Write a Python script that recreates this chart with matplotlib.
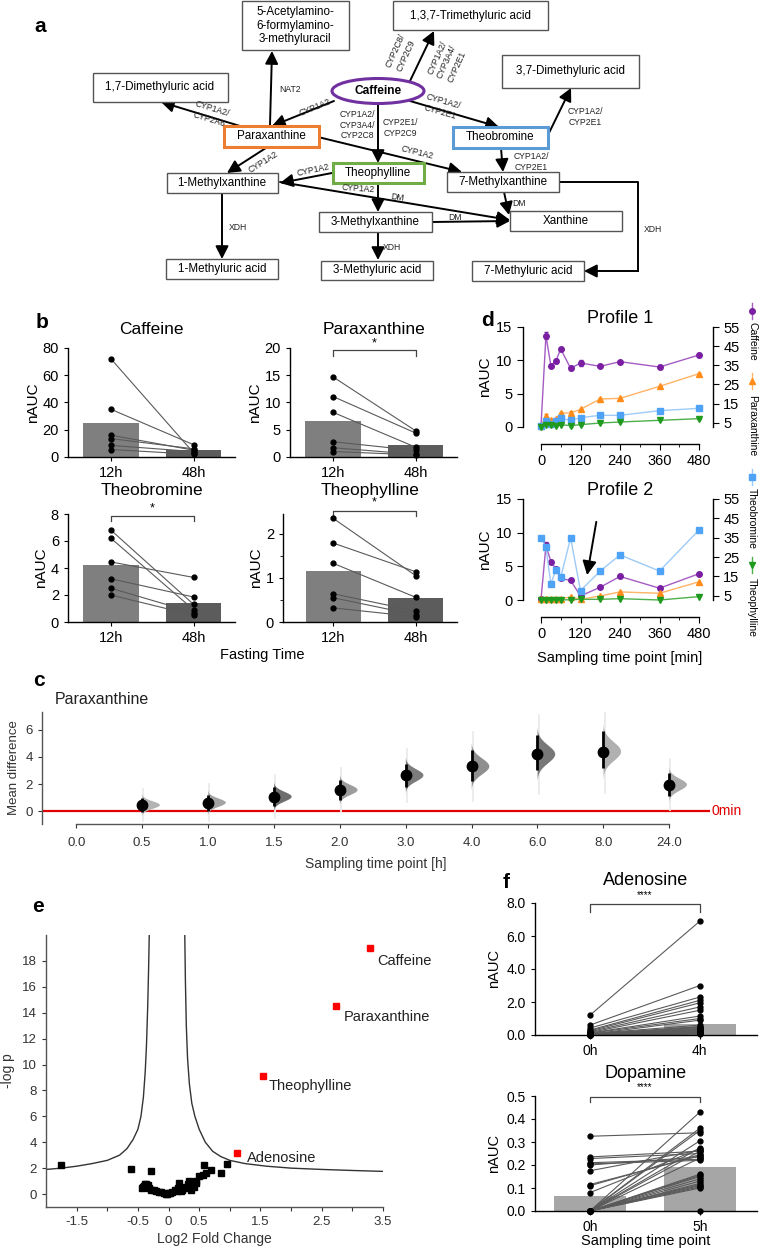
import numpy as np
import matplotlib
matplotlib.use('Agg')
import matplotlib.pyplot as plt
from matplotlib.patches import Rectangle, Ellipse, Polygon

plt.rcParams['font.family'] = ['Liberation Sans', 'DejaVu Sans']
plt.rcParams['axes.linewidth'] = 1.0

W, H = 761, 1248

# ---------------- panel a: pathway ----------------
box_labels = ['5-Acetylamino-\n6-formylamino-\n3-methyluracil', '1,3,7-Trimethyluric acid',
              '1,7-Dimethyluric acid', '3,7-Dimethyluric acid', 'Paraxanthine', 'Theobromine',
              'Theophylline', '1-Methylxanthine', '7-Methylxanthine', '3-Methylxanthine',
              'Xanthine', '1-Methyluric acid', '3-Methyluric acid', '7-Methyluric acid']
box_centers = [(295, 25.5), (470, 15.5), (160, 87), (570, 71), (271, 136), (500, 137),
               (378, 173), (222, 183), (503, 182), (375, 222), (566, 221), (222, 269),
               (377, 270), (528, 271)]
box_sizes = [(107, 49), (155, 29), (135, 29), (137, 33), (95, 21), (95, 21), (91, 20),
             (111, 20), (112, 20), (113, 20), (112, 20), (112, 20), (112, 19), (112, 20)]
box_edges = ['#555555'] * 4 + ['#ed7d31', '#5b9bd5', '#70ad47'] + ['#555555'] * 7

arrows = [((334, 101), (272, 126)), ((270, 125), (272, 51)), ((240, 126), (161, 102)),
          ((410, 81), (434, 31)), ((410, 101), (499, 127)), ((547, 137), (571, 88)),
          ((378, 104), (378, 163)), ((269, 146), (227, 173)), ((318, 137), (462, 172)),
          ((332, 173), (280, 183)), ((378, 183), (378, 212)), ((280, 182), (510, 220)),
          ((432, 222), (510, 221)), ((504, 192), (509, 215)), ((501, 148), (503, 172)),
          ((222, 193), (222, 259)), ((378, 232), (378, 260))]

enzymes = [('NAT2', 290, 89, 0), ('CYP1A2', 315, 107, 22), ('CYP1A2/\nCYP2A6', 211, 114, -17),
           ('CYP2C8/\nCYP2C9', 401, 53, 66), ('CYP1A2/\nCYP3A4/\nCYP2E1', 447, 62, 66),
           ('CYP1A2/\nCYP2E1', 442, 107, -16), ('CYP1A2/\nCYP2E1', 585, 117, 0),
           ('CYP1A2/\nCYP3A4/\nCYP2C8', 357, 125, 0), ('CYP2E1/\nCYP2C9', 400, 128, 0),
           ('CYP1A2', 263, 162, 32), ('CYP1A2', 313, 170, 12), ('CYP1A2', 358, 189, -4),
           ('CYP1A2', 417, 153, -14), ('DM', 397, 197, -8), ('DM', 455, 218, 0),
           ('DM', 519, 203, 0), ('CYP1A2/\nCYP2E1', 531, 162, 0), ('XDH', 653, 229, 0),
           ('XDH', 238, 227, 0), ('XDH', 392, 247, 0)]

# ---------------- panel b: fasting ----------------
b_groups = ['12h', '48h']
caf_12 = [72, 35, 16, 13.5, 8.5, 5.5]
caf_48 = [3, 9, 5, 6, 4, 2]
par_12 = [14.7, 11.1, 8.2, 2.8, 1.7, 1.0]
par_48 = [4.8, 4.4, 1.8, 1.2, 0.5, 0.4]
tbr_12 = [6.8, 6.2, 4.45, 3.2, 2.5, 2.0]
tbr_48 = [1.3, 0.9, 3.3, 1.85, 0.7, 0.5]
tph_12 = [2.35, 1.79, 1.33, 0.64, 0.55, 0.32]
tph_48 = [1.05, 1.14, 0.56, 0.25, 0.16, 0.12]

# ---------------- panel c: estimation plot ----------------
c_ticklabels = ['0.0', '0.5', '1.0', '1.5', '2.0', '3.0', '4.0', '6.0', '8.0', '24.0']
c_mean = [0.44, 0.62, 1.06, 1.56, 2.64, 3.3, 4.2, 4.4, 1.95]
c_lo = [-0.1, 0.0, 0.35, 0.85, 1.75, 2.2, 3.0, 3.2, 1.1]
c_hi = [0.98, 1.2, 1.75, 2.3, 3.5, 4.5, 5.6, 5.9, 2.8]
c_shade = ['#b3b3b3', '#a3a3a3', '#6e6e6e', '#9c9c9c', '#7c7c7c', '#8f8f8f', '#787878',
           '#b0b0b0', '#ababab']

# ---------------- panel d: profiles ----------------
t_min = [0, 15, 30, 45, 60, 90, 120, 180, 240, 360, 480]
p1_caf = [0.2, 13.7, 9.2, 9.9, 11.7, 8.8, 9.6, 9.1, 9.8, 9.0, 10.8]
p1_caf_err = [0, 0.5, 0.2, 0.3, 0.1, 0.3, 0.4, 0.1, 0.1, 0.1, 0.3]
p1_par = [0.2, 1.7, 1.0, 1.25, 2.1, 2.1, 2.65, 4.2, 4.3, 6.1, 8.0]
p1_par_err = [0, 0.2, 0.1, 0.1, 0.15, 0.35, 0.1, 0.1, 0.1, 0.1, 0.1]
p1_tbr = [0.1, 0.9, 0.5, 0.9, 1.3, 1.0, 1.4, 1.75, 1.75, 2.45, 2.8]
p1_tph = [0.0, 0.25, 0.25, 0.2, 0.35, 0.2, 0.35, 0.6, 0.75, 1.0, 1.25]
p1_tph_err = [0, 0, 0, 0, 0, 0.2, 0, 0, 0, 0, 0]
p2_caf = [0.1, 8.1, 5.7, 4.6, 3.2, 2.9, 0.6, 1.9, 3.5, 1.75, 3.9]
p2_caf_err = [0, 0.5, 0.1, 0.1, 0.1, 0.1, 0.1, 0.1, 0.1, 0.1, 0.1]
p2_par = [0.2, 0.2, 0.2, 0.2, 0.2, 0.45, 0.1, 0.6, 1.2, 1.0, 2.7]
p2_tbr = [9.2, 7.8, 2.4, 4.4, 3.4, 9.2, 1.4, 4.3, 6.7, 4.3, 10.4]
p2_tph = [0.05, 0.0, 0.0, 0.0, 0.0, 0.05, 0.1, 0.1, 0.2, 0.0, 0.5]
d_names = ['Caffeine', 'Paraxanthine', 'Theobromine', 'Theophylline']
d_markers = ['o', '^', 's', 'v']
d_mcol = ['#7b1fa2', '#ff8c1a', '#4fa3f7', '#1f9a1f']
d_lcol = ['#a45cc4', '#ffb366', '#9dcbf7', '#4cb04c']

# ---------------- panel e: volcano ----------------
e_pts = [(-1.76, 2.23), (-0.62, 1.90), (-0.28, 1.77), (0.58, 2.23), (0.95, 2.30), (0.86, 1.60),
         (0.69, 1.84), (0.61, 1.66), (0.49, 1.40), (0.56, 1.47), (0.45, 1.00), (0.40, 0.85),
         (0.44, 0.87), (0.42, 0.56), (0.37, 0.30), (0.34, 0.97), (0.29, 0.58), (0.17, 0.87),
         (0.16, 0.50), (0.10, 0.30), (0.06, 0.17), (0.01, 0.09), (-0.04, 0.04), (-0.08, 0.08),
         (-0.12, 0.14), (-0.16, 0.18), (-0.20, 0.22), (-0.24, 0.28), (-0.28, 0.30),
         (-0.32, 0.45), (-0.35, 0.60), (-0.38, 0.75), (-0.40, 0.62), (-0.42, 0.55),
         (-0.44, 0.50), (-0.36, 0.80), (-0.33, 0.70), (0.22, 0.35), (0.25, 0.45),
         (0.31, 0.75), (0.35, 0.60), (0.20, 0.25), (0.13, 0.20), (0.03, 0.05), (-0.02, 0.02)]
e_red_names = ['Caffeine', 'Paraxanthine', 'Theophylline', 'Adenosine']
e_red_x = [3.28, 2.74, 1.54, 1.12]
e_red_y = [19.0, 14.5, 9.15, 3.2]
e_left_x = [-2.0, -1.75, -1.5, -1.25, -1.0, -0.8, -0.68, -0.58, -0.5, -0.45, -0.41, -0.38,
            -0.36, -0.34, -0.325, -0.315]
e_left_y = [1.9, 2.0, 2.15, 2.35, 2.6, 3.0, 3.5, 4.2, 5.0, 6.0, 7.5, 9.5, 11.5, 14.5, 17.5, 20.0]
e_right_x = [0.265, 0.275, 0.29, 0.31, 0.34, 0.38, 0.43, 0.5, 0.6, 0.72, 0.85, 1.0, 1.25,
             1.6, 2.0, 2.5, 3.0, 3.5]
e_right_y = [20.0, 16.5, 13.0, 10.5, 8.5, 7.0, 6.0, 5.0, 4.0, 3.3, 2.9, 2.6, 2.35, 2.15,
             2.0, 1.9, 1.82, 1.75]
e_xticklabels = {-1.5: '-1.5', -0.5: '-0.5', 0.0: '0', 0.5: '0.5', 1.5: '1.5', 2.5: '2.5',
                 3.5: '3.5'}

# ---------------- panel f: paired ----------------
ado_0h = [1.2, 0.6, 0.42, 0.3, 0.25, 0.2, 0.15, 0.12, 0.1, 0.08, 0.06, 0.05, 0.05, 0.04,
          0.04, 0.03, 0.03, 0.02, 0.02, 0.02, 0.01, 0.01, 0.01, 0.0, 0.0]
ado_4h = [6.9, 3.0, 2.3, 2.1, 1.95, 1.7, 1.5, 1.15, 1.0, 0.6, 0.5, 0.35, 0.3, 0.9, 0.45,
          0.25, 0.2, 0.5, 0.4, 0.15, 0.1, 0.3, 0.05, 0.2, 0.1]
ado_bar = [0.03, 0.68]
dop_0h = [0.325, 0.235, 0.228, 0.21, 0.205, 0.2, 0.175, 0.115, 0.11, 0.08] + [0.0] * 18
dop_5h = [0.34, 0.26, 0.25, 0.225, 0.22, 0.235, 0.265, 0.24, 0.245, 0.27, 0.43, 0.36, 0.35,
          0.305, 0.275, 0.26, 0.23, 0.16, 0.155, 0.15, 0.14, 0.13, 0.12, 0.115, 0.11, 0.105,
          0.1, 0.0]
dop_bar = [0.067, 0.19]

fig = plt.figure(figsize=(W / 100, H / 100), dpi=100)


def px_axes(x0, y0, x1, y1):
    return fig.add_axes([x0 / W, 1 - y1 / H, (x1 - x0) / W, (y1 - y0) / H])


ov = fig.add_axes([0, 0, 1, 1], zorder=10)
ov.set_xlim(0, W)
ov.set_ylim(H, 0)
ov.axis('off')

# panel letters
for letter, lx, ly in [('a', 40, 27), ('b', 42, 322), ('c', 39, 680), ('d', 487, 320),
                       ('e', 38, 906), ('f', 506, 882)]:
    ov.text(lx, ly, letter, fontsize=15, fontweight='bold', ha='center', va='center')

# ---- a ----
for lab, (cx, cy), (bw, bh), ec in zip(box_labels, box_centers, box_sizes, box_edges):
    lw = 2.2 if ec != '#555555' else 1.0
    ov.add_patch(Rectangle((cx - bw / 2, cy - bh / 2), bw, bh, facecolor='white',
                           edgecolor=ec, lw=lw, zorder=3))
    ov.text(cx, cy, lab, ha='center', va='center', fontsize=8.4, linespacing=1.15, zorder=4)
ov.add_patch(Ellipse((378, 91), 92, 25, facecolor='white', edgecolor='#7030a0', lw=2.2, zorder=3))
ov.text(378, 91, 'Caffeine', ha='center', va='center', fontsize=8.6, fontweight='bold', zorder=4)

aprops = dict(arrowstyle='-|>,head_length=0.55,head_width=0.28', color='black', lw=1.4,
              shrinkA=0, shrinkB=0, mutation_scale=14)
for (x0, y0), (x1, y1) in arrows:
    ov.annotate('', xy=(x1, y1), xytext=(x0, y0), arrowprops=aprops, zorder=2)
ov.plot([559, 638, 638], [182, 182, 271], color='black', lw=1.4)
ov.annotate('', xy=(584, 271), xytext=(638, 271), arrowprops=aprops)

for txt, tx, ty, rot in enzymes:
    ov.text(tx, ty, txt, ha='center', va='center', fontsize=6.2, rotation=rot,
            color='#222222', linespacing=1.25, rotation_mode='anchor')

# ---- b ----
def paired(ax, before, after, xlabels, bar_h, bar_cols, bw, xlim):
    ax.bar([0, 1], bar_h, width=bw, color=bar_cols, zorder=1)
    for v0, v1 in zip(before, after):
        ax.plot([0, 1], [v0, v1], color='#5a5a5a', lw=0.8, zorder=2, clip_on=False)
    ax.plot([0] * len(before), before, 'o', color='black', ms=3.5, zorder=3, clip_on=False)
    ax.plot([1] * len(after), after, 'o', color='black', ms=3.5, zorder=3, clip_on=False)
    ax.set_xlim(*xlim)
    ax.set_xticks([0, 1])
    ax.set_xticklabels(xlabels)
    for s in ['top', 'right']:
        ax.spines[s].set_visible(False)
    ax.tick_params(labelsize=10.5, length=3)


def bracket(ax, y, drop, star, star_y, fs=9):
    ax.plot([0, 0, 1, 1], [y - drop, y, y, y - drop], color='#444444', lw=0.9, clip_on=False)
    ax.text(0.5, star_y, star, ha='center', va='center', fontsize=fs)


b_cols = ['#7f7f7f', '#5c5c5c']
b_specs = [
    ('Caffeine', caf_12, caf_48, (68, 348, 235, 457), (0, 80), [0, 20, 40, 60, 80], 10),
    ('Paraxanthine', par_12, par_48, (290, 348, 457, 457), (0, 20), [0, 5, 10, 15, 20], 10),
    ('Theobromine', tbr_12, tbr_48, (68, 514, 235, 622), (0, 8), [0, 2, 4, 6, 8], 14),
    ('Theophylline', tph_12, tph_48, (283, 514, 457, 622), (0, 2.45), [0, 1, 2], 14),
]
b_axes = []
for title, v0, v1, rect, ylim, yt, tpad in b_specs:
    ax = px_axes(*rect)
    xl = (-0.52, 1.5) if rect[0] != 283 else (-0.61, 1.5)
    paired(ax, v0, v1, b_groups, [np.mean(v0), np.mean(v1)], b_cols, 0.67, xl)
    ax.set_ylim(*ylim)
    ax.set_yticks(yt)
    ax.set_ylabel('nAUC', fontsize=11, labelpad=2)
    ax.set_title(title, fontsize=12.5, pad=tpad)
    b_axes.append(ax)
b_axes[3].set_yticks([0.5, 1.5], minor=True)
b_axes[3].tick_params(which='minor', length=2)
bracket(b_axes[1], 19.6, 1.0, '*', 20.9)
bracket(b_axes[2], 7.85, 0.4, '*', 8.4)
bracket(b_axes[3], 2.52, 0.12, '*', 2.72)
ov.text(262, 655, 'Fasting Time', ha='center', va='center', fontsize=10.5)

# ---- c ----
axc = px_axes(42, 712, 710, 824)
axc.set_xlim(-0.52, 9.62)
axc.set_ylim(-0.96, 7.33)
axc.axhline(0, color='#e00000', lw=1.6, zorder=1)
for i, (m, lo, hi, col) in enumerate(zip(c_mean, c_lo, c_hi, c_shade)):
    pos = i + 1
    sd = (hi - lo) / 3.92
    ys = np.linspace(m - 3.0 * sd, m + 3.0 * sd, 80)
    wid = 0.27 * np.exp(-0.5 * ((ys - m) / sd) ** 2)
    axc.plot([pos + 0.02, pos + 0.02], [m - 4.4 * sd, m + 4.4 * sd], color='#ebebeb', lw=1.3,
             zorder=1.5)
    axc.add_patch(Polygon(np.column_stack([pos + wid, ys]), closed=True, facecolor=col,
                          edgecolor='none', zorder=2))
    axc.vlines(pos, lo, hi, color='black', lw=2, zorder=3)
    axc.plot(pos, m, 'o', color='black', ms=7.5, zorder=4)
axc.set_xticks(range(len(c_ticklabels)))
axc.set_xticklabels(c_ticklabels)
axc.set_yticks([0, 2, 4, 6])
for s in ['top', 'right']:
    axc.spines[s].set_visible(False)
axc.spines['bottom'].set_bounds(0, 9)
axc.spines['bottom'].set_color('#555555')
axc.spines['left'].set_color('#555555')
axc.tick_params(labelsize=9.5, length=3, colors='#333333')
axc.tick_params(axis='x', pad=6)
axc.set_ylabel('Mean difference', fontsize=9.5, color='#333333', labelpad=4)
axc.set_xlabel('Sampling time point [h]', fontsize=10, color='#333333', labelpad=6)
ov.text(55, 699, 'Paraxanthine', ha='left', va='center', fontsize=11.5, color='#222222')
ov.text(712, 811, '0min', ha='left', va='center', fontsize=10, color='#e00000')

# ---- d ----
def profile(rect, series, errs, title):
    ax = px_axes(*rect)
    for vals, err, mk, mc, lc in zip(series, errs, d_markers, d_mcol, d_lcol):
        ax.errorbar(t_min, vals, yerr=err, color=lc, lw=1, marker=mk, ms=4, mfc=mc, mec=mc,
                    ecolor=mc, elinewidth=1, capsize=1.5, clip_on=False, zorder=3)
    ax.set_xlim(0, 480)
    ax.set_ylim(0, 15)
    ax.set_yticks([0, 5, 10, 15])
    ax.set_xticks([0, 120, 240, 360, 480])
    ax.set_xticks(range(0, 481, 60), minor=True)
    for s in ['top', 'right']:
        ax.spines[s].set_visible(False)
    ax.spines['left'].set_position(('outward', 13))
    ax.spines['bottom'].set_position(('outward', 12))
    ax.tick_params(labelsize=10.5, length=4)
    ax.tick_params(which='minor', length=2.5)
    ax.set_ylabel('nAUC', fontsize=11, labelpad=3)
    ax.set_title(title, fontsize=13, pad=3)
    ax2 = ax.twinx()
    ax2.set_ylim(2.8, 55)
    ax2.set_yticks([5, 15, 25, 35, 45, 55])
    for s in ['top', 'left', 'bottom']:
        ax2.spines[s].set_visible(False)
    ax2.spines['right'].set_position(('outward', 10))
    ax2.tick_params(labelsize=10.5, length=4)
    return ax


axp1 = profile((541, 327, 699, 427), [p1_caf, p1_par, p1_tbr, p1_tph],
               [p1_caf_err, p1_par_err, None, p1_tph_err], 'Profile 1')
axp2 = profile((541, 499, 699, 600), [p2_caf, p2_par, p2_tbr, p2_tph],
               [p2_caf_err, None, None, None], 'Profile 2')
axp2.set_xlabel('Sampling time point [min]', fontsize=10.5, labelpad=7)
axp2.annotate('', xy=(140, 3.7), xytext=(168, 11.6),
              arrowprops=dict(arrowstyle='-|>,head_length=0.6,head_width=0.3', color='black',
                              lw=1.4, mutation_scale=14, shrinkA=0, shrinkB=0))

leg_marker_y = [311, 381, 477, 565]
leg_text_y = [341, 426, 518, 608]
for name, mk, mc, lc, my, ty in zip(d_names, d_markers, d_mcol, d_lcol, leg_marker_y, leg_text_y):
    ov.plot([752, 752], [my - 8, my + 8], color=lc, lw=1)
    ov.plot([752], [my], marker=mk, color=mc, ms=4)
    ov.text(752, ty, name, rotation=270, ha='center', va='center', fontsize=7.5)

# ---- e ----
axe = px_axes(46, 935, 383, 1207)
axe.plot(e_left_x, e_left_y, color='#333333', lw=1)
axe.plot(e_right_x, e_right_y, color='#333333', lw=1)
axe.plot([p[0] for p in e_pts], [p[1] for p in e_pts], 's', color='black', ms=4.5, zorder=3)
axe.plot(e_red_x, e_red_y, 's', color='#ff0000', ms=4.5, zorder=3)
e_offsets = [(8, -13), (7, -11), (6, -10), (10, -5)]
for name, x, y, (dx, dy) in zip(e_red_names, e_red_x, e_red_y, e_offsets):
    axe.annotate(name, (x, y), xytext=(dx, dy), textcoords='offset pixels', ha='left',
                 va='center', fontsize=10.5, color='#222222')
axe.set_xlim(-2.0, 3.5)
axe.set_ylim(-1, 20)
ticks_e = np.arange(-1.5, 3.51, 0.5)
axe.set_xticks(ticks_e)
axe.set_xticklabels([e_xticklabels.get(round(t, 1), '') for t in ticks_e])
axe.set_yticks(range(0, 19, 2))
for s in ['top', 'right']:
    axe.spines[s].set_visible(False)
axe.spines['bottom'].set_color('#555555')
axe.spines['left'].set_color('#555555')
axe.tick_params(labelsize=9.5, length=3, colors='#333333')
axe.set_xlabel('Log2 Fold Change', fontsize=10, color='#333333', labelpad=3)
axe.set_ylabel('-log p', fontsize=10, color='#333333', labelpad=5)

# ---- f ----
axf1 = px_axes(535, 903, 757, 1035)
paired(axf1, ado_0h, ado_4h, ['0h', '4h'], ado_bar, ['#a6a6a6', '#a6a6a6'], 0.65, (-0.5, 1.52))
axf1.set_ylim(0, 8)
axf1.set_yticks([0, 2, 4, 6, 8])
axf1.set_yticklabels(['0.0', '2.0', '4.0', '6.0', '8.0'])
axf1.set_ylabel('nAUC', fontsize=10.5, labelpad=4)
axf1.set_title('Adenosine', fontsize=13, pad=13)
bracket(axf1, 7.95, 0.5, '****', 8.5, fs=7)

axf2 = px_axes(535, 1096, 757, 1211)
paired(axf2, dop_0h, dop_5h, ['0h', '5h'], dop_bar, ['#a6a6a6', '#a6a6a6'], 0.65, (-0.5, 1.52))
axf2.set_ylim(0, 0.5)
axf2.set_yticks([0, 0.1, 0.2, 0.3, 0.4, 0.5])
axf2.set_yticklabels(['0.0', '0.1', '0.2', '0.3', '0.4', '0.5'])
axf2.set_ylabel('nAUC', fontsize=10.5, labelpad=4)
axf2.set_title('Dopamine', fontsize=13, pad=13)
bracket(axf2, 0.497, 0.025, '****', 0.54, fs=7)
axf2.set_xlabel('Sampling time point', fontsize=10.5, labelpad=0)
for a in (axf1, axf2):
    a.tick_params(labelsize=10)

fig.savefig('out.png', dpi=100)
